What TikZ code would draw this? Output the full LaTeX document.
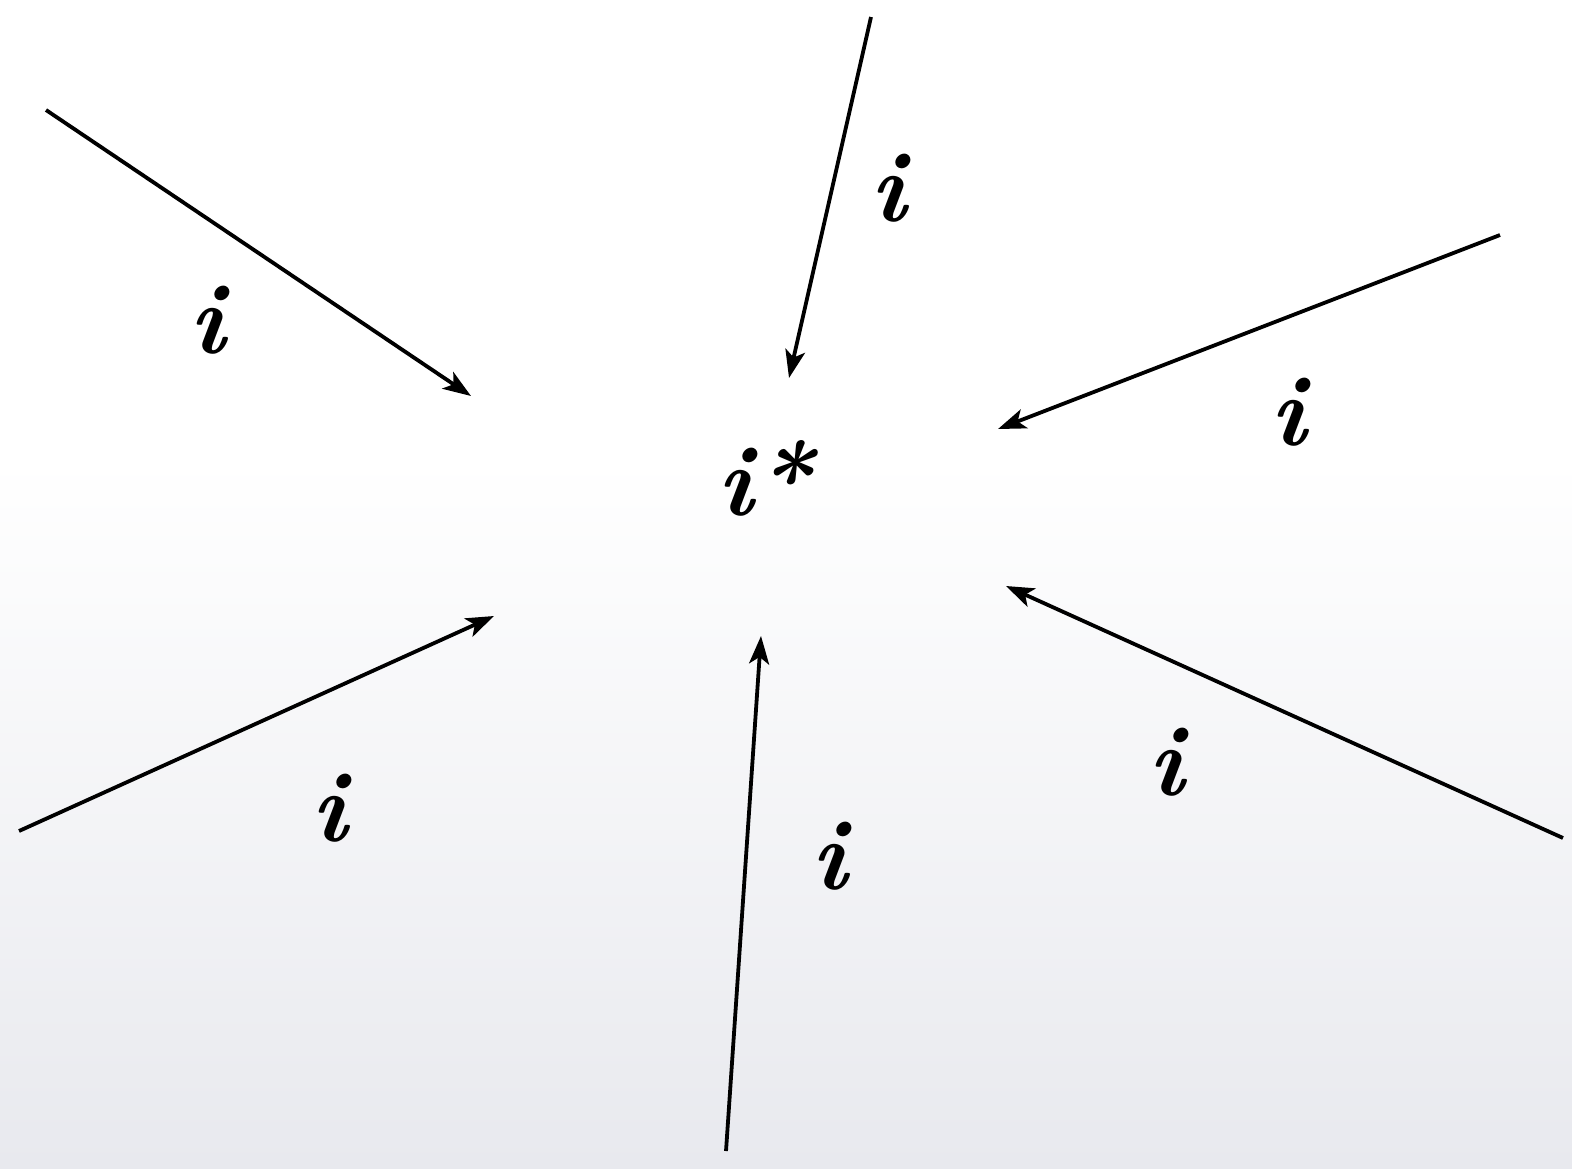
\documentclass[tikz,border=0pt]{standalone}
\usetikzlibrary{arrows.meta}
\definecolor{bgbot}{HTML}{E8E9EE}
\begin{document}
\begin{tikzpicture}[x=0.5pt,y=-0.5pt,
  conn/.style={line width=1.9pt,-{Stealth[length=14pt,width=10pt,inset=3.5pt]}},
  lbl/.style={inner sep=0pt,font=\fontsize{50}{60}\selectfont\bfseries\itshape}]
\useasboundingbox (0,0) rectangle (1572,1168);
\fill[white] (0,0) rectangle (1572,460);
\shade[top color=white,bottom color=bgbot] (0,459) rectangle (1572,1168);
% center
\node[lbl] (c) at (765,478) {i*};
% start and end coordinates
\coordinate (s1) at (46,110);   \coordinate (e1) at (471,396);
\coordinate (s2) at (871,17);   \coordinate (e2) at (789,378);
\coordinate (s3) at (1500,235); \coordinate (e3) at (998,429);
\coordinate (s4) at (19,831);   \coordinate (e4) at (494,616);
\coordinate (s5) at (726,1151); \coordinate (e5) at (761,636);
\coordinate (s6) at (1563,838); \coordinate (e6) at (1006,586);
\draw[conn] (s1) -- (e1);
\draw[conn] (s2) -- (e2);
\draw[conn] (s3) -- (e3);
\draw[conn] (s4) -- (e4);
\draw[conn] (s5) -- (e5);
\draw[conn] (s6) -- (e6);
% labels
\node[lbl] (l1) at (207,320) {i};
\node[lbl] (l2) at (888,188) {i};
\node[lbl] (l3) at (1288,412) {i};
\node[lbl] (l4) at (329,808) {i};
\node[lbl] (l5) at (829,856) {i};
\node[lbl] (l6) at (1166,762) {i};
\end{tikzpicture}
\end{document}
